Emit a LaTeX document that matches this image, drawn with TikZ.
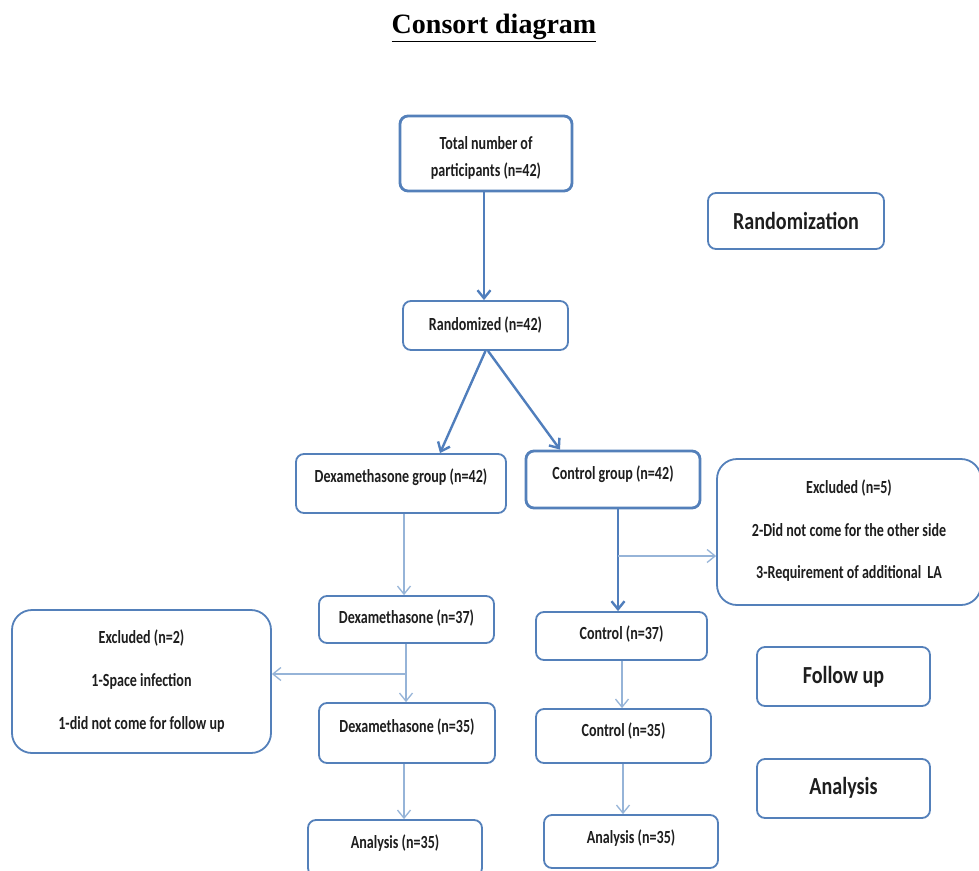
\documentclass[tikz,border=0pt]{standalone}
\usepackage{fontspec}
\setmainfont{Carlito}
\newfontfamily\cf[FakeStretch=0.76]{Carlito}
\newfontfamily\cfb[FakeStretch=0.82]{Carlito}
\newfontfamily\tf{Liberation Serif}
\usetikzlibrary{arrows.meta}
\definecolor{boxc}{RGB}{84,128,186}
\definecolor{thickc}{RGB}{80,126,188}
\definecolor{thinc}{RGB}{150,180,216}
\definecolor{txtc}{RGB}{30,30,30}
\begin{document}
\begin{tikzpicture}[x=1pt,y=-1pt,
  box/.style={draw=boxc,line width=1.8pt,rounded corners=8pt,inner sep=0pt},
  boxthick/.style={box,line width=2.8pt},
  bigbox/.style={box,rounded corners=20pt},
  txt/.style={font=\cf\bfseries\fontsize{18.5}{20}\selectfont,text=txtc,align=center,inner sep=0pt},
  bigtxt/.style={font=\cfb\bfseries\fontsize{24.5}{26}\selectfont,text=txtc,inner sep=0pt},
  thickarr/.style={draw=thickc,line width=2.4pt,-{Straight Barb[length=8pt,width=13pt]}},
  thinarr/.style={draw=thinc,line width=1.3pt,-{Straight Barb[length=8pt,width=13pt]}},
  thinline/.style={draw=thinc,line width=1.3pt},
  thickline/.style={draw=thickc,line width=2.4pt}]
\useasboundingbox (0,0) rectangle (979,870);
\fill[white] (0,0) rectangle (979,870);

% title
\node[inner sep=0pt] (title) at (494,28) {\tf\bfseries\fontsize{28}{30}\selectfont\underline{Consort diagram}};

% boxes
\node[boxthick,minimum width=172pt,minimum height=75pt] (tot) at (486,153.5) {};
\node[txt,font=\cf\bfseries\fontsize{18.5}{27}\selectfont] (totT) at (486,158) {Total number of\\participants (n=42)};

\node[box,minimum width=176pt,minimum height=56pt] (rndz) at (796,221) {};
\node[bigtxt] (rndzT) at (796,221) {Randomization};

\node[box,minimum width=165pt,minimum height=49pt] (rnd) at (485.5,325.5) {};
\node[txt] (rndT) at (485.5,325) {Randomized (n=42)};

\node[box,minimum width=210pt,minimum height=59pt] (dexg) at (401,483.5) {};
\node[txt] (dexgT) at (401,477) {Dexamethasone group (n=42)};

\node[boxthick,minimum width=174pt,minimum height=57pt] (ctlg) at (613,479.5) {};
\node[txt] (ctlgT) at (613,474) {Control group (n=42)};

\node[bigbox,minimum width=264pt,minimum height=146pt] (exc5) at (849,532) {};
\node[txt,font=\cf\bfseries\fontsize{18.5}{42.5}\selectfont] (exc5T) at (849,531) {Excluded (n=5)\\2-Did not come for the other side\\3-Requirement of additional\,\,LA};

\node[box,minimum width=175pt,minimum height=47pt] (dex37) at (406.5,619.5) {};
\node[txt] (dex37T) at (406.5,618) {Dexamethasone (n=37)};

\node[bigbox,minimum width=259pt,minimum height=143pt] (exc2) at (141.5,681.5) {};
\node[txt,font=\cf\bfseries\fontsize{18.5}{43}\selectfont] (exc2T) at (141.5,681) {Excluded (n=2)\\1-Space infection\\1-did not come for follow up};

\node[box,minimum width=176pt,minimum height=60pt] (dex35) at (407,733) {};
\node[txt] (dex35T) at (407,727) {Dexamethasone (n=35)};

\node[box,minimum width=171pt,minimum height=48pt] (c37) at (621.5,636) {};
\node[txt] (c37T) at (621.5,634) {Control (n=37)};

\node[box,minimum width=173pt,minimum height=59pt] (fu) at (843.5,676.5) {};
\node[bigtxt] (fuT) at (843.5,677) {Follow up};

\node[box,minimum width=175pt,minimum height=54pt] (c35) at (623.5,736) {};
\node[txt] (c35T) at (623.5,731) {Control (n=35)};

\node[box,minimum width=173pt,minimum height=59pt] (an) at (843.5,788.5) {};
\node[bigtxt] (anT) at (843.5,788) {Analysis};

\node[box,minimum width=174pt,minimum height=56pt] (anl) at (395,848) {};
\node[txt] (anlT) at (395,843) {Analysis (n=35)};

\node[box,minimum width=174pt,minimum height=53pt] (anr) at (631,841.5) {};
\node[txt] (anrT) at (631,838) {Analysis (n=35)};

% connectors
\draw[thickarr] ([xshift=-2pt]tot.south) -- ([xshift=-1.5pt]rnd.north);
\draw[thickarr] (rnd.south) -- ([xshift=39pt]dexg.north);
\draw[thickarr] ([xshift=2.5pt]rnd.south) -- ([xshift=-53pt]ctlg.north);

\coordinate (dgs) at ([xshift=3pt]dexg.south);
\draw[thinarr] (dgs) -- (dgs |- dex37.north);

\coordinate (cgs) at ([xshift=5pt]ctlg.south);
\coordinate (e5in) at ([yshift=-24pt]exc5.west);
\draw[thickarr] (cgs) -- (cgs |- c37.north);
\draw[thinarr] (cgs |- e5in) -- (e5in);

\coordinate (d37s) at ([xshift=-0.5pt]dex37.south);
\coordinate (e2in) at ([yshift=7.5pt]exc2.east);
\draw[thinarr] (d37s) -- (d37s |- dex35.north);
\draw[thinarr] (d37s |- e2in) -- (e2in);

\coordinate (d35s) at ([xshift=-3pt]dex35.south);
\draw[thinarr] (d35s) -- (d35s |- anl.north);

\coordinate (c37s) at ([xshift=0.5pt]c37.south);
\draw[thinarr] (c37s) -- (c37s |- c35.north);

\coordinate (c35s) at ([xshift=-0.5pt]c35.south);
\draw[thinarr] (c35s) -- (c35s |- anr.north);
\end{tikzpicture}
\end{document}
